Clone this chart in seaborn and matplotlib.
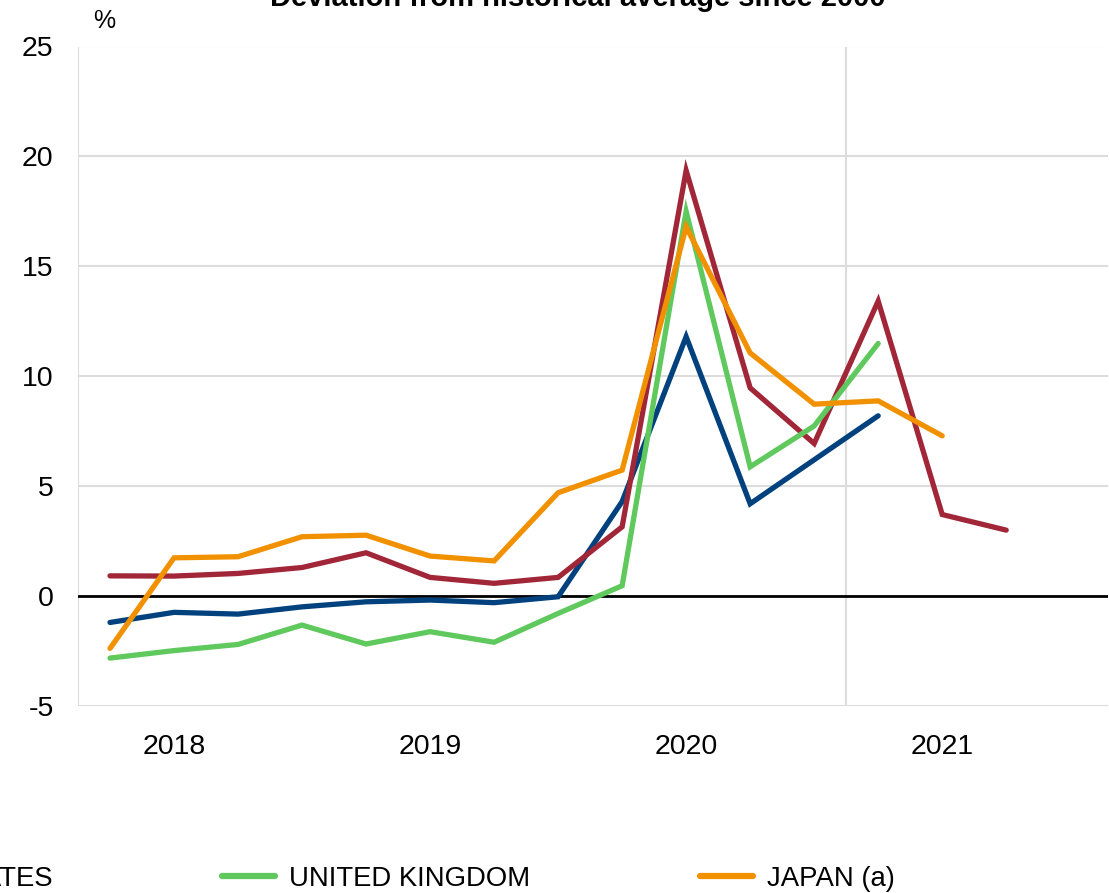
import numpy as np
import pandas as pd
import matplotlib
matplotlib.use("Agg")
import matplotlib.pyplot as plt
import seaborn as sns

# ---- data (quarterly points, index 0..15) ----
quarters = list(range(16))
year_labels = ["2018", "2019", "2020", "2021"]
year_label_pos = [1, 5, 9, 13]

united_states = [-1.2, -0.74, -0.82, -0.49, -0.26, -0.18, -0.3, -0.03, 4.3, 11.8, 4.2, 6.2, 8.2]
euro_area = [0.92, 0.91, 1.03, 1.3, 1.97, 0.85, 0.58, 0.85, 3.15, 19.36, 9.47, 6.94, 13.42, 3.71, 3.0]
united_kingdom = [-2.82, -2.48, -2.2, -1.32, -2.18, -1.62, -2.1, -0.79, 0.47, 17.5, 5.88, 7.74, 11.49]
japan = [-2.38, 1.74, 1.79, 2.7, 2.77, 1.82, 1.6, 4.7, 5.73, 16.8, 11.06, 8.73, 8.88, 7.29]

series_names = ["UNITED STATES", "EURO AREA", "UNITED KINGDOM", "JAPAN (a)"]
series_values = [united_states, euro_area, united_kingdom, japan]
colors = ["#00417e", "#a02638", "#5fc95d", "#f29100"]

rows = []
for name, vals in zip(series_names, series_values):
    for q, v in zip(quarters, vals):
        rows.append({"q": q, "value": v, "country": name})
df = pd.DataFrame(rows)

sns.set_style("white")
plt.rcParams["font.family"] = ["Liberation Sans", "DejaVu Sans"]
plt.rcParams["text.color"] = "black"
plt.rcParams["axes.labelcolor"] = "black"
plt.rcParams["xtick.color"] = "black"
plt.rcParams["ytick.color"] = "black"

fig = plt.figure(figsize=(11.09, 8.93), dpi=100)
W, H = 1109, 893
left_px, right_px, top_px, bottom_px = 78, 1108, 46.5, 706
ax = fig.add_axes([left_px / W, 1 - bottom_px / H, (right_px - left_px) / W, (bottom_px - top_px) / H])

sns.lineplot(data=df, x="q", y="value", hue="country", hue_order=series_names,
             palette=dict(zip(series_names, colors)), linewidth=3.8, errorbar=None,
             ax=ax, legend=True)
for ln in ax.get_lines():
    ln.set_solid_capstyle("round")
    ln.set_solid_joinstyle("miter")

handles, labels = ax.get_legend_handles_labels()
ax.get_legend().remove()

ax.set_xlim(-0.5, 15.59)
ax.set_ylim(-5, 25)
ax.set_yticks([-5, 0, 5, 10, 15, 20, 25])
ax.set_yticklabels(["-5", "0", "5", "10", "15", "20", "25"])
ax.set_xticks(year_label_pos)
ax.set_xticklabels(year_labels)
ax.set_xticks([-0.5, 11.5], minor=True)
ax.set_xlabel("")
ax.set_ylabel("")

for s in ax.spines.values():
    s.set_visible(False)
ax.grid(False)
ax.grid(True, axis="y", which="major", color="#dcdcdc", linewidth=1.5)
ax.grid(True, axis="x", which="minor", color="#dcdcdc", linewidth=1.5)
ax.set_axisbelow(True)
ax.axhline(0, color="black", linewidth=2.0, zorder=1.5)

ax.tick_params(axis="both", which="both", length=0, labelsize=20.5, colors="black")
ax.tick_params(axis="y", pad=17.5)
ax.tick_params(axis="x", pad=20.5)

fig.text(104 / W, 1 - 21 / H, "%", ha="center", va="center", fontsize=18)
fig.text(578 / W, 1 - 6 / H, "Deviation from historical average since 2000",
         ha="center", va="baseline", fontsize=21, fontweight="bold")

leg = fig.legend(handles, labels, ncol=3, loc="upper left",
                 bbox_to_anchor=(-227 / W, 1 - 866 / H), bbox_transform=fig.transFigure,
                 frameon=False, fontsize=19.8, handlelength=1.93, handletextpad=0.5,
                 columnspacing=6.18, borderpad=0, borderaxespad=0, labelspacing=0.5)
for lh in leg.get_lines():
    lh.set_linewidth(4.5)
    lh.set_solid_capstyle("round")
for t in leg.get_texts():
    t.set_color("black")

fig.savefig("out.png", dpi=100)
